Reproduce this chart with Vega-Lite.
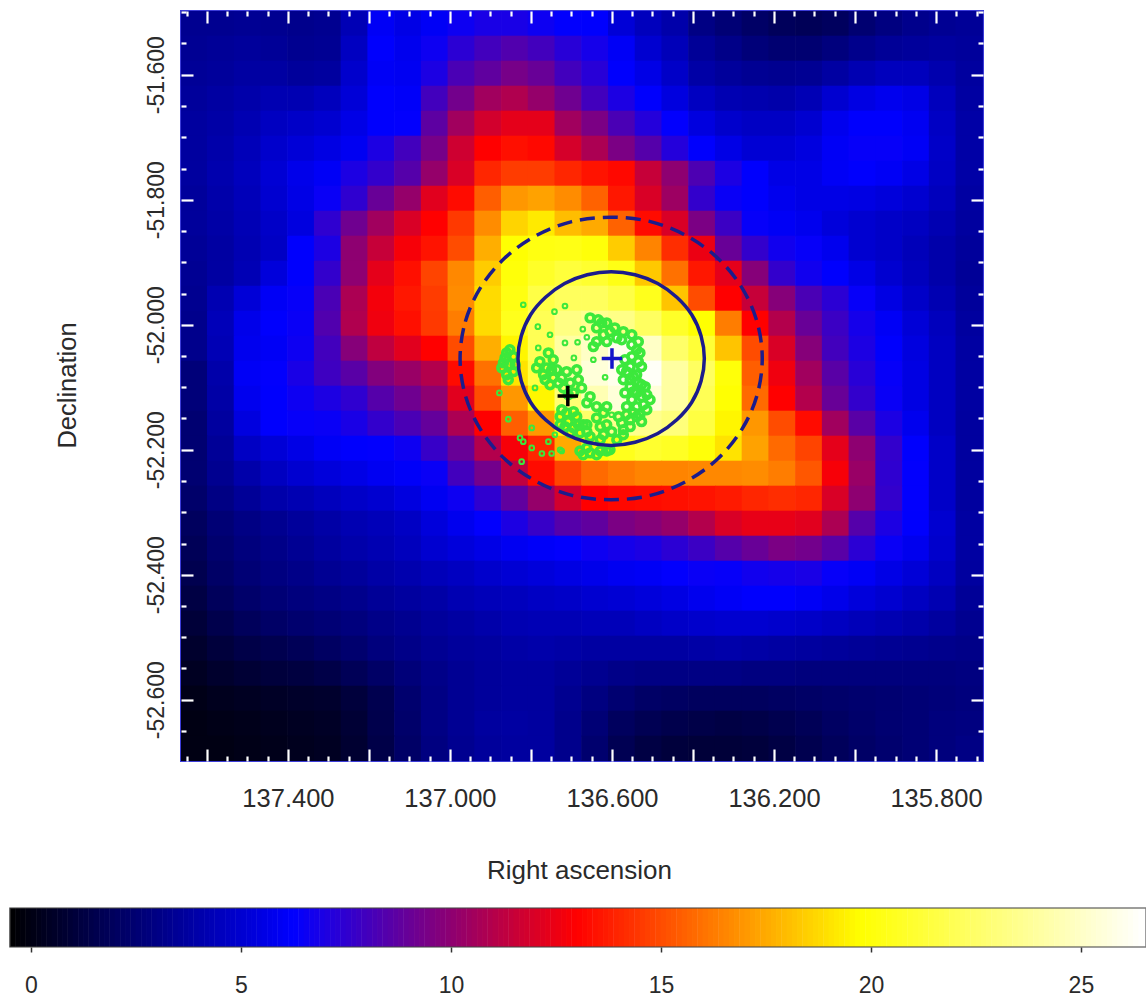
{"$schema":"https://vega.github.io/schema/vega-lite/v6.json","width":802,"height":750,"autosize":{"type":"none"},"padding":{"left":181,"top":11,"right":163,"bottom":237},"background":"#ffffff","config":{"font":"Liberation Sans","view":{"stroke":"#3c3cd8","strokeWidth":2}},
"datasets":{"cells":[
{"ra":137.632,"dec":-51.518,"v":3.3},{"ra":137.566,"dec":-51.518,"v":3.3},{"ra":137.5,"dec":-51.518,"v":3.4},{"ra":137.434,"dec":-51.518,"v":3.3},{"ra":137.368,"dec":-51.518,"v":3.2},{"ra":137.302,"dec":-51.518,"v":3.3},{"ra":137.236,"dec":-51.518,"v":4.3},{"ra":137.17,"dec":-51.518,"v":6.0},{"ra":137.104,"dec":-51.518,"v":5.6},{"ra":137.038,"dec":-51.518,"v":6.0},{"ra":136.972,"dec":-51.518,"v":6.6},{"ra":136.906,"dec":-51.518,"v":6.9},{"ra":136.84,"dec":-51.518,"v":6.9},{"ra":136.774,"dec":-51.518,"v":6.6},{"ra":136.708,"dec":-51.518,"v":6.3},{"ra":136.642,"dec":-51.518,"v":6.2},{"ra":136.576,"dec":-51.518,"v":5.2},{"ra":136.51,"dec":-51.518,"v":4.5},{"ra":136.444,"dec":-51.518,"v":4.0},{"ra":136.378,"dec":-51.518,"v":3.0},{"ra":136.312,"dec":-51.518,"v":2.6},{"ra":136.246,"dec":-51.518,"v":2.2},{"ra":136.18,"dec":-51.518,"v":1.9},{"ra":136.114,"dec":-51.518,"v":1.8},{"ra":136.048,"dec":-51.518,"v":2.0},{"ra":135.982,"dec":-51.518,"v":2.5},{"ra":135.916,"dec":-51.518,"v":2.9},{"ra":135.85,"dec":-51.518,"v":3.2},{"ra":135.784,"dec":-51.518,"v":3.4},{"ra":135.718,"dec":-51.518,"v":3.5},
{"ra":137.632,"dec":-51.558,"v":3.4},{"ra":137.566,"dec":-51.558,"v":3.5},{"ra":137.5,"dec":-51.558,"v":3.6},{"ra":137.434,"dec":-51.558,"v":3.5},{"ra":137.368,"dec":-51.558,"v":3.3},{"ra":137.302,"dec":-51.558,"v":3.4},{"ra":137.236,"dec":-51.558,"v":4.6},{"ra":137.17,"dec":-51.558,"v":6.2},{"ra":137.104,"dec":-51.558,"v":5.8},{"ra":137.038,"dec":-51.558,"v":6.6},{"ra":136.972,"dec":-51.558,"v":7.4},{"ra":136.906,"dec":-51.558,"v":8.0},{"ra":136.84,"dec":-51.558,"v":8.4},{"ra":136.774,"dec":-51.558,"v":8.0},{"ra":136.708,"dec":-51.558,"v":7.3},{"ra":136.642,"dec":-51.558,"v":6.8},{"ra":136.576,"dec":-51.558,"v":6.0},{"ra":136.51,"dec":-51.558,"v":5.0},{"ra":136.444,"dec":-51.558,"v":4.4},{"ra":136.378,"dec":-51.558,"v":3.5},{"ra":136.312,"dec":-51.558,"v":3.1},{"ra":136.246,"dec":-51.558,"v":2.7},{"ra":136.18,"dec":-51.558,"v":2.5},{"ra":136.114,"dec":-51.558,"v":2.5},{"ra":136.048,"dec":-51.558,"v":2.8},{"ra":135.982,"dec":-51.558,"v":3.2},{"ra":135.916,"dec":-51.558,"v":3.5},{"ra":135.85,"dec":-51.558,"v":3.6},{"ra":135.784,"dec":-51.558,"v":3.7},{"ra":135.718,"dec":-51.558,"v":3.6},
{"ra":137.632,"dec":-51.598,"v":3.5},{"ra":137.566,"dec":-51.598,"v":3.6},{"ra":137.5,"dec":-51.598,"v":3.8},{"ra":137.434,"dec":-51.598,"v":3.8},{"ra":137.368,"dec":-51.598,"v":3.6},{"ra":137.302,"dec":-51.598,"v":3.7},{"ra":137.236,"dec":-51.598,"v":4.9},{"ra":137.17,"dec":-51.598,"v":6.0},{"ra":137.104,"dec":-51.598,"v":5.9},{"ra":137.038,"dec":-51.598,"v":7.0},{"ra":136.972,"dec":-51.598,"v":8.2},{"ra":136.906,"dec":-51.598,"v":8.8},{"ra":136.84,"dec":-51.598,"v":9.4},{"ra":136.774,"dec":-51.598,"v":9.0},{"ra":136.708,"dec":-51.598,"v":8.0},{"ra":136.642,"dec":-51.598,"v":7.3},{"ra":136.576,"dec":-51.598,"v":6.2},{"ra":136.51,"dec":-51.598,"v":5.6},{"ra":136.444,"dec":-51.598,"v":4.8},{"ra":136.378,"dec":-51.598,"v":3.9},{"ra":136.312,"dec":-51.598,"v":3.6},{"ra":136.246,"dec":-51.598,"v":3.4},{"ra":136.18,"dec":-51.598,"v":3.3},{"ra":136.114,"dec":-51.598,"v":3.4},{"ra":136.048,"dec":-51.598,"v":3.8},{"ra":135.982,"dec":-51.598,"v":4.2},{"ra":135.916,"dec":-51.598,"v":4.5},{"ra":135.85,"dec":-51.598,"v":4.5},{"ra":135.784,"dec":-51.598,"v":4.1},{"ra":135.718,"dec":-51.598,"v":3.7},
{"ra":137.632,"dec":-51.638,"v":3.6},{"ra":137.566,"dec":-51.638,"v":3.8},{"ra":137.5,"dec":-51.638,"v":4.0},{"ra":137.434,"dec":-51.638,"v":4.2},{"ra":137.368,"dec":-51.638,"v":4.2},{"ra":137.302,"dec":-51.638,"v":4.5},{"ra":137.236,"dec":-51.638,"v":5.2},{"ra":137.17,"dec":-51.638,"v":6.2},{"ra":137.104,"dec":-51.638,"v":6.1},{"ra":137.038,"dec":-51.638,"v":8.0},{"ra":136.972,"dec":-51.638,"v":9.3},{"ra":136.906,"dec":-51.638,"v":10.5},{"ra":136.84,"dec":-51.638,"v":10.9},{"ra":136.774,"dec":-51.638,"v":10.2},{"ra":136.708,"dec":-51.638,"v":9.2},{"ra":136.642,"dec":-51.638,"v":8.0},{"ra":136.576,"dec":-51.638,"v":7.0},{"ra":136.51,"dec":-51.638,"v":6.2},{"ra":136.444,"dec":-51.638,"v":5.4},{"ra":136.378,"dec":-51.638,"v":4.6},{"ra":136.312,"dec":-51.638,"v":4.2},{"ra":136.246,"dec":-51.638,"v":4.1},{"ra":136.18,"dec":-51.638,"v":4.0},{"ra":136.114,"dec":-51.638,"v":4.3},{"ra":136.048,"dec":-51.638,"v":5.0},{"ra":135.982,"dec":-51.638,"v":5.5},{"ra":135.916,"dec":-51.638,"v":5.8},{"ra":135.85,"dec":-51.638,"v":5.6},{"ra":135.784,"dec":-51.638,"v":4.5},{"ra":135.718,"dec":-51.638,"v":3.8},
{"ra":137.632,"dec":-51.678,"v":3.7},{"ra":137.566,"dec":-51.678,"v":3.9},{"ra":137.5,"dec":-51.678,"v":4.2},{"ra":137.434,"dec":-51.678,"v":4.6},{"ra":137.368,"dec":-51.678,"v":4.8},{"ra":137.302,"dec":-51.678,"v":5.0},{"ra":137.236,"dec":-51.678,"v":5.6},{"ra":137.17,"dec":-51.678,"v":6.2},{"ra":137.104,"dec":-51.678,"v":6.3},{"ra":137.038,"dec":-51.678,"v":8.7},{"ra":136.972,"dec":-51.678,"v":10.5},{"ra":136.906,"dec":-51.678,"v":11.8},{"ra":136.84,"dec":-51.678,"v":12.3},{"ra":136.774,"dec":-51.678,"v":12.3},{"ra":136.708,"dec":-51.678,"v":10.5},{"ra":136.642,"dec":-51.678,"v":9.5},{"ra":136.576,"dec":-51.678,"v":8.2},{"ra":136.51,"dec":-51.678,"v":7.2},{"ra":136.444,"dec":-51.678,"v":6.3},{"ra":136.378,"dec":-51.678,"v":5.4},{"ra":136.312,"dec":-51.678,"v":4.9},{"ra":136.246,"dec":-51.678,"v":4.7},{"ra":136.18,"dec":-51.678,"v":4.7},{"ra":136.114,"dec":-51.678,"v":5.0},{"ra":136.048,"dec":-51.678,"v":5.8},{"ra":135.982,"dec":-51.678,"v":6.2},{"ra":135.916,"dec":-51.678,"v":6.2},{"ra":135.85,"dec":-51.678,"v":5.9},{"ra":135.784,"dec":-51.678,"v":4.7},{"ra":135.718,"dec":-51.678,"v":3.9},
{"ra":137.632,"dec":-51.718,"v":3.7},{"ra":137.566,"dec":-51.718,"v":4.0},{"ra":137.5,"dec":-51.718,"v":4.4},{"ra":137.434,"dec":-51.718,"v":4.9},{"ra":137.368,"dec":-51.718,"v":5.2},{"ra":137.302,"dec":-51.718,"v":5.5},{"ra":137.236,"dec":-51.718,"v":5.9},{"ra":137.17,"dec":-51.718,"v":7.0},{"ra":137.104,"dec":-51.718,"v":8.0},{"ra":137.038,"dec":-51.718,"v":9.4},{"ra":136.972,"dec":-51.718,"v":11.7},{"ra":136.906,"dec":-51.718,"v":13.0},{"ra":136.84,"dec":-51.718,"v":13.4},{"ra":136.774,"dec":-51.718,"v":13.2},{"ra":136.708,"dec":-51.718,"v":11.9},{"ra":136.642,"dec":-51.718,"v":10.8},{"ra":136.576,"dec":-51.718,"v":9.5},{"ra":136.51,"dec":-51.718,"v":8.5},{"ra":136.444,"dec":-51.718,"v":7.2},{"ra":136.378,"dec":-51.718,"v":6.2},{"ra":136.312,"dec":-51.718,"v":5.6},{"ra":136.246,"dec":-51.718,"v":5.1},{"ra":136.18,"dec":-51.718,"v":5.1},{"ra":136.114,"dec":-51.718,"v":5.4},{"ra":136.048,"dec":-51.718,"v":6.0},{"ra":135.982,"dec":-51.718,"v":6.4},{"ra":135.916,"dec":-51.718,"v":6.4},{"ra":135.85,"dec":-51.718,"v":6.0},{"ra":135.784,"dec":-51.718,"v":4.8},{"ra":135.718,"dec":-51.718,"v":3.9},
{"ra":137.632,"dec":-51.758,"v":3.7},{"ra":137.566,"dec":-51.758,"v":4.1},{"ra":137.5,"dec":-51.758,"v":4.5},{"ra":137.434,"dec":-51.758,"v":5.1},{"ra":137.368,"dec":-51.758,"v":5.7},{"ra":137.302,"dec":-51.758,"v":6.0},{"ra":137.236,"dec":-51.758,"v":7.0},{"ra":137.17,"dec":-51.758,"v":7.6},{"ra":137.104,"dec":-51.758,"v":8.5},{"ra":137.038,"dec":-51.758,"v":10.2},{"ra":136.972,"dec":-51.758,"v":12.0},{"ra":136.906,"dec":-51.758,"v":14.0},{"ra":136.84,"dec":-51.758,"v":14.6},{"ra":136.774,"dec":-51.758,"v":14.6},{"ra":136.708,"dec":-51.758,"v":14.0},{"ra":136.642,"dec":-51.758,"v":13.5},{"ra":136.576,"dec":-51.758,"v":13.2},{"ra":136.51,"dec":-51.758,"v":11.5},{"ra":136.444,"dec":-51.758,"v":10.0},{"ra":136.378,"dec":-51.758,"v":8.3},{"ra":136.312,"dec":-51.758,"v":7.0},{"ra":136.246,"dec":-51.758,"v":6.2},{"ra":136.18,"dec":-51.758,"v":5.6},{"ra":136.114,"dec":-51.758,"v":5.6},{"ra":136.048,"dec":-51.758,"v":6.0},{"ra":135.982,"dec":-51.758,"v":6.2},{"ra":135.916,"dec":-51.758,"v":6.0},{"ra":135.85,"dec":-51.758,"v":5.6},{"ra":135.784,"dec":-51.758,"v":4.7},{"ra":135.718,"dec":-51.758,"v":3.9},
{"ra":137.632,"dec":-51.798,"v":3.6},{"ra":137.566,"dec":-51.798,"v":4.0},{"ra":137.5,"dec":-51.798,"v":4.4},{"ra":137.434,"dec":-51.798,"v":5.0},{"ra":137.368,"dec":-51.798,"v":5.6},{"ra":137.302,"dec":-51.798,"v":6.5},{"ra":137.236,"dec":-51.798,"v":7.5},{"ra":137.17,"dec":-51.798,"v":9.0},{"ra":137.104,"dec":-51.798,"v":10.2},{"ra":137.038,"dec":-51.798,"v":12.2},{"ra":136.972,"dec":-51.798,"v":13.3},{"ra":136.906,"dec":-51.798,"v":15.5},{"ra":136.84,"dec":-51.798,"v":17.0},{"ra":136.774,"dec":-51.798,"v":17.3},{"ra":136.708,"dec":-51.798,"v":16.7},{"ra":136.642,"dec":-51.798,"v":15.6},{"ra":136.576,"dec":-51.798,"v":13.6},{"ra":136.51,"dec":-51.798,"v":12.0},{"ra":136.444,"dec":-51.798,"v":10.4},{"ra":136.378,"dec":-51.798,"v":7.6},{"ra":136.312,"dec":-51.798,"v":6.5},{"ra":136.246,"dec":-51.798,"v":6.2},{"ra":136.18,"dec":-51.798,"v":5.8},{"ra":136.114,"dec":-51.798,"v":5.6},{"ra":136.048,"dec":-51.798,"v":5.6},{"ra":135.982,"dec":-51.798,"v":5.5},{"ra":135.916,"dec":-51.798,"v":5.3},{"ra":135.85,"dec":-51.798,"v":5.0},{"ra":135.784,"dec":-51.798,"v":4.5},{"ra":135.718,"dec":-51.798,"v":3.8},
{"ra":137.632,"dec":-51.838,"v":3.6},{"ra":137.566,"dec":-51.838,"v":3.9},{"ra":137.5,"dec":-51.838,"v":4.3},{"ra":137.434,"dec":-51.838,"v":4.8},{"ra":137.368,"dec":-51.838,"v":5.4},{"ra":137.302,"dec":-51.838,"v":7.5},{"ra":137.236,"dec":-51.838,"v":9.2},{"ra":137.17,"dec":-51.838,"v":10.5},{"ra":137.104,"dec":-51.838,"v":12.0},{"ra":137.038,"dec":-51.838,"v":13.0},{"ra":136.972,"dec":-51.838,"v":14.5},{"ra":136.906,"dec":-51.838,"v":16.7},{"ra":136.84,"dec":-51.838,"v":18.6},{"ra":136.774,"dec":-51.838,"v":19.2},{"ra":136.708,"dec":-51.838,"v":18.0},{"ra":136.642,"dec":-51.838,"v":17.5},{"ra":136.576,"dec":-51.838,"v":15.6},{"ra":136.51,"dec":-51.838,"v":13.3},{"ra":136.444,"dec":-51.838,"v":12.0},{"ra":136.378,"dec":-51.838,"v":9.5},{"ra":136.312,"dec":-51.838,"v":7.8},{"ra":136.246,"dec":-51.838,"v":6.4},{"ra":136.18,"dec":-51.838,"v":6.0},{"ra":136.114,"dec":-51.838,"v":5.8},{"ra":136.048,"dec":-51.838,"v":5.3},{"ra":135.982,"dec":-51.838,"v":5.0},{"ra":135.916,"dec":-51.838,"v":4.8},{"ra":135.85,"dec":-51.838,"v":4.6},{"ra":135.784,"dec":-51.838,"v":4.2},{"ra":135.718,"dec":-51.838,"v":3.7},
{"ra":137.632,"dec":-51.878,"v":3.5},{"ra":137.566,"dec":-51.878,"v":3.8},{"ra":137.5,"dec":-51.878,"v":4.2},{"ra":137.434,"dec":-51.878,"v":4.7},{"ra":137.368,"dec":-51.878,"v":6.2},{"ra":137.302,"dec":-51.878,"v":7.0},{"ra":137.236,"dec":-51.878,"v":10.0},{"ra":137.17,"dec":-51.878,"v":11.5},{"ra":137.104,"dec":-51.878,"v":12.8},{"ra":137.038,"dec":-51.878,"v":13.5},{"ra":136.972,"dec":-51.878,"v":15.0},{"ra":136.906,"dec":-51.878,"v":17.6},{"ra":136.84,"dec":-51.878,"v":19.8},{"ra":136.774,"dec":-51.878,"v":20.2},{"ra":136.708,"dec":-51.878,"v":20.3},{"ra":136.642,"dec":-51.878,"v":20.0},{"ra":136.576,"dec":-51.878,"v":18.4},{"ra":136.51,"dec":-51.878,"v":16.5},{"ra":136.444,"dec":-51.878,"v":14.2},{"ra":136.378,"dec":-51.878,"v":12.5},{"ra":136.312,"dec":-51.878,"v":9.0},{"ra":136.246,"dec":-51.878,"v":7.6},{"ra":136.18,"dec":-51.878,"v":6.7},{"ra":136.114,"dec":-51.878,"v":6.4},{"ra":136.048,"dec":-51.878,"v":5.8},{"ra":135.982,"dec":-51.878,"v":5.0},{"ra":135.916,"dec":-51.878,"v":4.8},{"ra":135.85,"dec":-51.878,"v":4.4},{"ra":135.784,"dec":-51.878,"v":4.0},{"ra":135.718,"dec":-51.878,"v":3.6},
{"ra":137.632,"dec":-51.918,"v":3.4},{"ra":137.566,"dec":-51.918,"v":3.8},{"ra":137.5,"dec":-51.918,"v":4.3},{"ra":137.434,"dec":-51.918,"v":5.3},{"ra":137.368,"dec":-51.918,"v":6.2},{"ra":137.302,"dec":-51.918,"v":7.6},{"ra":137.236,"dec":-51.918,"v":10.0},{"ra":137.17,"dec":-51.918,"v":12.3},{"ra":137.104,"dec":-51.918,"v":13.4},{"ra":137.038,"dec":-51.918,"v":14.8},{"ra":136.972,"dec":-51.918,"v":16.6},{"ra":136.906,"dec":-51.918,"v":18.4},{"ra":136.84,"dec":-51.918,"v":20.0},{"ra":136.774,"dec":-51.918,"v":20.8},{"ra":136.708,"dec":-51.918,"v":21.3},{"ra":136.642,"dec":-51.918,"v":21.0},{"ra":136.576,"dec":-51.918,"v":20.3},{"ra":136.51,"dec":-51.918,"v":18.3},{"ra":136.444,"dec":-51.918,"v":16.0},{"ra":136.378,"dec":-51.918,"v":13.6},{"ra":136.312,"dec":-51.918,"v":12.3},{"ra":136.246,"dec":-51.918,"v":9.8},{"ra":136.18,"dec":-51.918,"v":7.6},{"ra":136.114,"dec":-51.918,"v":6.7},{"ra":136.048,"dec":-51.918,"v":6.2},{"ra":135.982,"dec":-51.918,"v":5.6},{"ra":135.916,"dec":-51.918,"v":5.0},{"ra":135.85,"dec":-51.918,"v":4.5},{"ra":135.784,"dec":-51.918,"v":4.0},{"ra":135.718,"dec":-51.918,"v":3.5},
{"ra":137.632,"dec":-51.958,"v":3.3},{"ra":137.566,"dec":-51.958,"v":4.2},{"ra":137.5,"dec":-51.958,"v":5.2},{"ra":137.434,"dec":-51.958,"v":6.0},{"ra":137.368,"dec":-51.958,"v":6.4},{"ra":137.302,"dec":-51.958,"v":8.2},{"ra":137.236,"dec":-51.958,"v":10.8},{"ra":137.17,"dec":-51.958,"v":12.7},{"ra":137.104,"dec":-51.958,"v":13.6},{"ra":137.038,"dec":-51.958,"v":14.6},{"ra":136.972,"dec":-51.958,"v":16.7},{"ra":136.906,"dec":-51.958,"v":18.8},{"ra":136.84,"dec":-51.958,"v":20.2},{"ra":136.774,"dec":-51.958,"v":21.6},{"ra":136.708,"dec":-51.958,"v":22.2},{"ra":136.642,"dec":-51.958,"v":22.2},{"ra":136.576,"dec":-51.958,"v":21.6},{"ra":136.51,"dec":-51.958,"v":20.5},{"ra":136.444,"dec":-51.958,"v":18.2},{"ra":136.378,"dec":-51.958,"v":15.0},{"ra":136.312,"dec":-51.958,"v":13.0},{"ra":136.246,"dec":-51.958,"v":11.5},{"ra":136.18,"dec":-51.958,"v":9.8},{"ra":136.114,"dec":-51.958,"v":8.2},{"ra":136.048,"dec":-51.958,"v":7.4},{"ra":135.982,"dec":-51.958,"v":6.4},{"ra":135.916,"dec":-51.958,"v":5.5},{"ra":135.85,"dec":-51.958,"v":4.8},{"ra":135.784,"dec":-51.958,"v":4.2},{"ra":135.718,"dec":-51.958,"v":3.6},
{"ra":137.632,"dec":-51.998,"v":3.2},{"ra":137.566,"dec":-51.998,"v":4.4},{"ra":137.5,"dec":-51.998,"v":5.7},{"ra":137.434,"dec":-51.998,"v":6.2},{"ra":137.368,"dec":-51.998,"v":6.5},{"ra":137.302,"dec":-51.998,"v":8.4},{"ra":137.236,"dec":-51.998,"v":10.9},{"ra":137.17,"dec":-51.998,"v":12.6},{"ra":137.104,"dec":-51.998,"v":13.4},{"ra":137.038,"dec":-51.998,"v":14.5},{"ra":136.972,"dec":-51.998,"v":16.3},{"ra":136.906,"dec":-51.998,"v":18.8},{"ra":136.84,"dec":-51.998,"v":20.5},{"ra":136.774,"dec":-51.998,"v":22.0},{"ra":136.708,"dec":-51.998,"v":23.2},{"ra":136.642,"dec":-51.998,"v":23.6},{"ra":136.576,"dec":-51.998,"v":23.3},{"ra":136.51,"dec":-51.998,"v":22.3},{"ra":136.444,"dec":-51.998,"v":20.8},{"ra":136.378,"dec":-51.998,"v":19.8},{"ra":136.312,"dec":-51.998,"v":16.3},{"ra":136.246,"dec":-51.998,"v":13.0},{"ra":136.18,"dec":-51.998,"v":11.0},{"ra":136.114,"dec":-51.998,"v":9.0},{"ra":136.048,"dec":-51.998,"v":7.8},{"ra":135.982,"dec":-51.998,"v":6.8},{"ra":135.916,"dec":-51.998,"v":6.0},{"ra":135.85,"dec":-51.998,"v":5.2},{"ra":135.784,"dec":-51.998,"v":4.5},{"ra":135.718,"dec":-51.998,"v":3.7},
{"ra":137.632,"dec":-52.038,"v":3.2},{"ra":137.566,"dec":-52.038,"v":4.3},{"ra":137.5,"dec":-52.038,"v":5.8},{"ra":137.434,"dec":-52.038,"v":6.0},{"ra":137.368,"dec":-52.038,"v":6.6},{"ra":137.302,"dec":-52.038,"v":8.0},{"ra":137.236,"dec":-52.038,"v":9.8},{"ra":137.17,"dec":-52.038,"v":11.3},{"ra":137.104,"dec":-52.038,"v":12.2},{"ra":137.038,"dec":-52.038,"v":13.0},{"ra":136.972,"dec":-52.038,"v":15.0},{"ra":136.906,"dec":-52.038,"v":17.6},{"ra":136.84,"dec":-52.038,"v":19.5},{"ra":136.774,"dec":-52.038,"v":22.0},{"ra":136.708,"dec":-52.038,"v":24.0},{"ra":136.642,"dec":-52.038,"v":25.0},{"ra":136.576,"dec":-52.038,"v":26.0},{"ra":136.51,"dec":-52.038,"v":25.0},{"ra":136.444,"dec":-52.038,"v":22.5},{"ra":136.378,"dec":-52.038,"v":21.2},{"ra":136.312,"dec":-52.038,"v":18.2},{"ra":136.246,"dec":-52.038,"v":15.0},{"ra":136.18,"dec":-52.038,"v":12.0},{"ra":136.114,"dec":-52.038,"v":9.8},{"ra":136.048,"dec":-52.038,"v":8.0},{"ra":135.982,"dec":-52.038,"v":7.0},{"ra":135.916,"dec":-52.038,"v":6.2},{"ra":135.85,"dec":-52.038,"v":5.4},{"ra":135.784,"dec":-52.038,"v":4.6},{"ra":135.718,"dec":-52.038,"v":3.8},
{"ra":137.632,"dec":-52.078,"v":2.7},{"ra":137.566,"dec":-52.078,"v":4.0},{"ra":137.5,"dec":-52.078,"v":6.0},{"ra":137.434,"dec":-52.078,"v":6.3},{"ra":137.368,"dec":-52.078,"v":6.9},{"ra":137.302,"dec":-52.078,"v":7.9},{"ra":137.236,"dec":-52.078,"v":8.6},{"ra":137.17,"dec":-52.078,"v":9.7},{"ra":137.104,"dec":-52.078,"v":10.3},{"ra":137.038,"dec":-52.078,"v":11.0},{"ra":136.972,"dec":-52.078,"v":13.3},{"ra":136.906,"dec":-52.078,"v":16.0},{"ra":136.84,"dec":-52.078,"v":19.0},{"ra":136.774,"dec":-52.078,"v":21.5},{"ra":136.708,"dec":-52.078,"v":24.0},{"ra":136.642,"dec":-52.078,"v":25.5},{"ra":136.576,"dec":-52.078,"v":26.0},{"ra":136.51,"dec":-52.078,"v":26.3},{"ra":136.444,"dec":-52.078,"v":24.0},{"ra":136.378,"dec":-52.078,"v":22.3},{"ra":136.312,"dec":-52.078,"v":20.0},{"ra":136.246,"dec":-52.078,"v":15.5},{"ra":136.18,"dec":-52.078,"v":12.6},{"ra":136.114,"dec":-52.078,"v":10.5},{"ra":136.048,"dec":-52.078,"v":8.6},{"ra":135.982,"dec":-52.078,"v":7.3},{"ra":135.916,"dec":-52.078,"v":6.4},{"ra":135.85,"dec":-52.078,"v":5.5},{"ra":135.784,"dec":-52.078,"v":4.6},{"ra":135.718,"dec":-52.078,"v":3.8},
{"ra":137.632,"dec":-52.118,"v":2.7},{"ra":137.566,"dec":-52.118,"v":3.9},{"ra":137.5,"dec":-52.118,"v":5.8},{"ra":137.434,"dec":-52.118,"v":6.2},{"ra":137.368,"dec":-52.118,"v":6.6},{"ra":137.302,"dec":-52.118,"v":7.0},{"ra":137.236,"dec":-52.118,"v":7.5},{"ra":137.17,"dec":-52.118,"v":8.5},{"ra":137.104,"dec":-52.118,"v":9.2},{"ra":137.038,"dec":-52.118,"v":10.0},{"ra":136.972,"dec":-52.118,"v":12.2},{"ra":136.906,"dec":-52.118,"v":15.0},{"ra":136.84,"dec":-52.118,"v":17.0},{"ra":136.774,"dec":-52.118,"v":19.5},{"ra":136.708,"dec":-52.118,"v":22.8},{"ra":136.642,"dec":-52.118,"v":24.5},{"ra":136.576,"dec":-52.118,"v":25.5},{"ra":136.51,"dec":-52.118,"v":25.5},{"ra":136.444,"dec":-52.118,"v":24.0},{"ra":136.378,"dec":-52.118,"v":22.0},{"ra":136.312,"dec":-52.118,"v":19.8},{"ra":136.246,"dec":-52.118,"v":15.8},{"ra":136.18,"dec":-52.118,"v":13.0},{"ra":136.114,"dec":-52.118,"v":11.0},{"ra":136.048,"dec":-52.118,"v":9.0},{"ra":135.982,"dec":-52.118,"v":7.6},{"ra":135.916,"dec":-52.118,"v":6.5},{"ra":135.85,"dec":-52.118,"v":5.5},{"ra":135.784,"dec":-52.118,"v":4.6},{"ra":135.718,"dec":-52.118,"v":3.8},
{"ra":137.632,"dec":-52.158,"v":2.5},{"ra":137.566,"dec":-52.158,"v":3.7},{"ra":137.5,"dec":-52.158,"v":5.4},{"ra":137.434,"dec":-52.158,"v":6.2},{"ra":137.368,"dec":-52.158,"v":6.4},{"ra":137.302,"dec":-52.158,"v":6.5},{"ra":137.236,"dec":-52.158,"v":6.9},{"ra":137.17,"dec":-52.158,"v":7.6},{"ra":137.104,"dec":-52.158,"v":8.2},{"ra":137.038,"dec":-52.158,"v":8.9},{"ra":136.972,"dec":-52.158,"v":10.8},{"ra":136.906,"dec":-52.158,"v":13.0},{"ra":136.84,"dec":-52.158,"v":15.5},{"ra":136.774,"dec":-52.158,"v":17.0},{"ra":136.708,"dec":-52.158,"v":20.0},{"ra":136.642,"dec":-52.158,"v":22.5},{"ra":136.576,"dec":-52.158,"v":23.5},{"ra":136.51,"dec":-52.158,"v":23.5},{"ra":136.444,"dec":-52.158,"v":23.0},{"ra":136.378,"dec":-52.158,"v":21.5},{"ra":136.312,"dec":-52.158,"v":19.5},{"ra":136.246,"dec":-52.158,"v":17.0},{"ra":136.18,"dec":-52.158,"v":15.0},{"ra":136.114,"dec":-52.158,"v":13.3},{"ra":136.048,"dec":-52.158,"v":10.5},{"ra":135.982,"dec":-52.158,"v":8.6},{"ra":135.916,"dec":-52.158,"v":7.0},{"ra":135.85,"dec":-52.158,"v":5.8},{"ra":135.784,"dec":-52.158,"v":4.6},{"ra":135.718,"dec":-52.158,"v":3.7},
{"ra":137.632,"dec":-52.198,"v":2.5},{"ra":137.566,"dec":-52.198,"v":3.5},{"ra":137.5,"dec":-52.198,"v":4.7},{"ra":137.434,"dec":-52.198,"v":5.2},{"ra":137.368,"dec":-52.198,"v":5.6},{"ra":137.302,"dec":-52.198,"v":6.0},{"ra":137.236,"dec":-52.198,"v":6.2},{"ra":137.17,"dec":-52.198,"v":6.3},{"ra":137.104,"dec":-52.198,"v":6.6},{"ra":137.038,"dec":-52.198,"v":7.7},{"ra":136.972,"dec":-52.198,"v":9.0},{"ra":136.906,"dec":-52.198,"v":11.0},{"ra":136.84,"dec":-52.198,"v":12.8},{"ra":136.774,"dec":-52.198,"v":14.0},{"ra":136.708,"dec":-52.198,"v":17.5},{"ra":136.642,"dec":-52.198,"v":20.0},{"ra":136.576,"dec":-52.198,"v":20.5},{"ra":136.51,"dec":-52.198,"v":21.0},{"ra":136.444,"dec":-52.198,"v":20.7},{"ra":136.378,"dec":-52.198,"v":20.0},{"ra":136.312,"dec":-52.198,"v":19.0},{"ra":136.246,"dec":-52.198,"v":17.3},{"ra":136.18,"dec":-52.198,"v":15.8},{"ra":136.114,"dec":-52.198,"v":14.8},{"ra":136.048,"dec":-52.198,"v":12.3},{"ra":135.982,"dec":-52.198,"v":10.0},{"ra":135.916,"dec":-52.198,"v":7.6},{"ra":135.85,"dec":-52.198,"v":6.2},{"ra":135.784,"dec":-52.198,"v":4.8},{"ra":135.718,"dec":-52.198,"v":3.7},
{"ra":137.632,"dec":-52.238,"v":2.5},{"ra":137.566,"dec":-52.238,"v":3.3},{"ra":137.5,"dec":-52.238,"v":4.0},{"ra":137.434,"dec":-52.238,"v":4.6},{"ra":137.368,"dec":-52.238,"v":5.0},{"ra":137.302,"dec":-52.238,"v":5.3},{"ra":137.236,"dec":-52.238,"v":5.6},{"ra":137.17,"dec":-52.238,"v":5.9},{"ra":137.104,"dec":-52.238,"v":6.1},{"ra":137.038,"dec":-52.238,"v":6.5},{"ra":136.972,"dec":-52.238,"v":8.0},{"ra":136.906,"dec":-52.238,"v":9.3},{"ra":136.84,"dec":-52.238,"v":11.3},{"ra":136.774,"dec":-52.238,"v":13.3},{"ra":136.708,"dec":-52.238,"v":14.8},{"ra":136.642,"dec":-52.238,"v":15.8},{"ra":136.576,"dec":-52.238,"v":16.2},{"ra":136.51,"dec":-52.238,"v":16.5},{"ra":136.444,"dec":-52.238,"v":16.5},{"ra":136.378,"dec":-52.238,"v":16.6},{"ra":136.312,"dec":-52.238,"v":16.6},{"ra":136.246,"dec":-52.238,"v":16.7},{"ra":136.18,"dec":-52.238,"v":16.3},{"ra":136.114,"dec":-52.238,"v":15.3},{"ra":136.048,"dec":-52.238,"v":12.8},{"ra":135.982,"dec":-52.238,"v":10.3},{"ra":135.916,"dec":-52.238,"v":7.5},{"ra":135.85,"dec":-52.238,"v":6.3},{"ra":135.784,"dec":-52.238,"v":4.8},{"ra":135.718,"dec":-52.238,"v":3.7},
{"ra":137.632,"dec":-52.278,"v":2.3},{"ra":137.566,"dec":-52.278,"v":3.0},{"ra":137.5,"dec":-52.278,"v":3.5},{"ra":137.434,"dec":-52.278,"v":4.0},{"ra":137.368,"dec":-52.278,"v":4.2},{"ra":137.302,"dec":-52.278,"v":4.5},{"ra":137.236,"dec":-52.278,"v":4.8},{"ra":137.17,"dec":-52.278,"v":5.0},{"ra":137.104,"dec":-52.278,"v":5.4},{"ra":137.038,"dec":-52.278,"v":5.9},{"ra":136.972,"dec":-52.278,"v":6.6},{"ra":136.906,"dec":-52.278,"v":7.5},{"ra":136.84,"dec":-52.278,"v":8.8},{"ra":136.774,"dec":-52.278,"v":10.2},{"ra":136.708,"dec":-52.278,"v":11.8},{"ra":136.642,"dec":-52.278,"v":13.0},{"ra":136.576,"dec":-52.278,"v":13.2},{"ra":136.51,"dec":-52.278,"v":13.3},{"ra":136.444,"dec":-52.278,"v":13.4},{"ra":136.378,"dec":-52.278,"v":13.5},{"ra":136.312,"dec":-52.278,"v":13.7},{"ra":136.246,"dec":-52.278,"v":14.0},{"ra":136.18,"dec":-52.278,"v":14.2},{"ra":136.114,"dec":-52.278,"v":14.0},{"ra":136.048,"dec":-52.278,"v":12.0},{"ra":135.982,"dec":-52.278,"v":10.0},{"ra":135.916,"dec":-52.278,"v":7.6},{"ra":135.85,"dec":-52.278,"v":6.3},{"ra":135.784,"dec":-52.278,"v":4.8},{"ra":135.718,"dec":-52.278,"v":3.7},
{"ra":137.632,"dec":-52.318,"v":2.0},{"ra":137.566,"dec":-52.318,"v":2.6},{"ra":137.5,"dec":-52.318,"v":3.0},{"ra":137.434,"dec":-52.318,"v":3.3},{"ra":137.368,"dec":-52.318,"v":3.6},{"ra":137.302,"dec":-52.318,"v":3.9},{"ra":137.236,"dec":-52.318,"v":4.2},{"ra":137.17,"dec":-52.318,"v":4.4},{"ra":137.104,"dec":-52.318,"v":4.7},{"ra":137.038,"dec":-52.318,"v":5.3},{"ra":136.972,"dec":-52.318,"v":5.8},{"ra":136.906,"dec":-52.318,"v":6.3},{"ra":136.84,"dec":-52.318,"v":7.0},{"ra":136.774,"dec":-52.318,"v":7.7},{"ra":136.708,"dec":-52.318,"v":8.5},{"ra":136.642,"dec":-52.318,"v":8.8},{"ra":136.576,"dec":-52.318,"v":9.5},{"ra":136.51,"dec":-52.318,"v":9.8},{"ra":136.444,"dec":-52.318,"v":10.2},{"ra":136.378,"dec":-52.318,"v":11.0},{"ra":136.312,"dec":-52.318,"v":12.0},{"ra":136.246,"dec":-52.318,"v":12.4},{"ra":136.18,"dec":-52.318,"v":12.4},{"ra":136.114,"dec":-52.318,"v":12.2},{"ra":136.048,"dec":-52.318,"v":10.8},{"ra":135.982,"dec":-52.318,"v":8.5},{"ra":135.916,"dec":-52.318,"v":7.0},{"ra":135.85,"dec":-52.318,"v":6.2},{"ra":135.784,"dec":-52.318,"v":5.0},{"ra":135.718,"dec":-52.318,"v":3.8},
{"ra":137.632,"dec":-52.358,"v":1.8},{"ra":137.566,"dec":-52.358,"v":2.4},{"ra":137.5,"dec":-52.358,"v":2.8},{"ra":137.434,"dec":-52.358,"v":3.1},{"ra":137.368,"dec":-52.358,"v":3.4},{"ra":137.302,"dec":-52.358,"v":3.7},{"ra":137.236,"dec":-52.358,"v":4.0},{"ra":137.17,"dec":-52.358,"v":4.2},{"ra":137.104,"dec":-52.358,"v":4.5},{"ra":137.038,"dec":-52.358,"v":5.0},{"ra":136.972,"dec":-52.358,"v":5.3},{"ra":136.906,"dec":-52.358,"v":5.6},{"ra":136.84,"dec":-52.358,"v":5.9},{"ra":136.774,"dec":-52.358,"v":6.1},{"ra":136.708,"dec":-52.358,"v":6.3},{"ra":136.642,"dec":-52.358,"v":6.6},{"ra":136.576,"dec":-52.358,"v":6.8},{"ra":136.51,"dec":-52.358,"v":7.0},{"ra":136.444,"dec":-52.358,"v":7.4},{"ra":136.378,"dec":-52.358,"v":7.8},{"ra":136.312,"dec":-52.358,"v":8.5},{"ra":136.246,"dec":-52.358,"v":9.0},{"ra":136.18,"dec":-52.358,"v":9.5},{"ra":136.114,"dec":-52.358,"v":9.3},{"ra":136.048,"dec":-52.358,"v":8.6},{"ra":135.982,"dec":-52.358,"v":7.4},{"ra":135.916,"dec":-52.358,"v":6.5},{"ra":135.85,"dec":-52.358,"v":5.8},{"ra":135.784,"dec":-52.358,"v":4.9},{"ra":135.718,"dec":-52.358,"v":3.8},
{"ra":137.632,"dec":-52.398,"v":1.6},{"ra":137.566,"dec":-52.398,"v":2.2},{"ra":137.5,"dec":-52.398,"v":2.6},{"ra":137.434,"dec":-52.398,"v":2.9},{"ra":137.368,"dec":-52.398,"v":3.1},{"ra":137.302,"dec":-52.398,"v":3.4},{"ra":137.236,"dec":-52.398,"v":3.6},{"ra":137.17,"dec":-52.398,"v":3.9},{"ra":137.104,"dec":-52.398,"v":4.1},{"ra":137.038,"dec":-52.398,"v":4.4},{"ra":136.972,"dec":-52.398,"v":4.6},{"ra":136.906,"dec":-52.398,"v":4.9},{"ra":136.84,"dec":-52.398,"v":5.1},{"ra":136.774,"dec":-52.398,"v":5.3},{"ra":136.708,"dec":-52.398,"v":5.5},{"ra":136.642,"dec":-52.398,"v":5.7},{"ra":136.576,"dec":-52.398,"v":5.9},{"ra":136.51,"dec":-52.398,"v":6.0},{"ra":136.444,"dec":-52.398,"v":6.3},{"ra":136.378,"dec":-52.398,"v":6.5},{"ra":136.312,"dec":-52.398,"v":6.4},{"ra":136.246,"dec":-52.398,"v":6.7},{"ra":136.18,"dec":-52.398,"v":6.8},{"ra":136.114,"dec":-52.398,"v":6.9},{"ra":136.048,"dec":-52.398,"v":6.4},{"ra":135.982,"dec":-52.398,"v":6.0},{"ra":135.916,"dec":-52.398,"v":5.6},{"ra":135.85,"dec":-52.398,"v":5.2},{"ra":135.784,"dec":-52.398,"v":4.6},{"ra":135.718,"dec":-52.398,"v":3.7},
{"ra":137.632,"dec":-52.438,"v":1.3},{"ra":137.566,"dec":-52.438,"v":1.9},{"ra":137.5,"dec":-52.438,"v":2.3},{"ra":137.434,"dec":-52.438,"v":2.6},{"ra":137.368,"dec":-52.438,"v":2.8},{"ra":137.302,"dec":-52.438,"v":3.0},{"ra":137.236,"dec":-52.438,"v":3.2},{"ra":137.17,"dec":-52.438,"v":3.5},{"ra":137.104,"dec":-52.438,"v":3.7},{"ra":137.038,"dec":-52.438,"v":3.9},{"ra":136.972,"dec":-52.438,"v":4.2},{"ra":136.906,"dec":-52.438,"v":4.4},{"ra":136.84,"dec":-52.438,"v":4.5},{"ra":136.774,"dec":-52.438,"v":4.7},{"ra":136.708,"dec":-52.438,"v":4.8},{"ra":136.642,"dec":-52.438,"v":5.0},{"ra":136.576,"dec":-52.438,"v":5.1},{"ra":136.51,"dec":-52.438,"v":5.3},{"ra":136.444,"dec":-52.438,"v":5.5},{"ra":136.378,"dec":-52.438,"v":5.8},{"ra":136.312,"dec":-52.438,"v":6.0},{"ra":136.246,"dec":-52.438,"v":6.2},{"ra":136.18,"dec":-52.438,"v":6.2},{"ra":136.114,"dec":-52.438,"v":6.0},{"ra":136.048,"dec":-52.438,"v":5.7},{"ra":135.982,"dec":-52.438,"v":5.3},{"ra":135.916,"dec":-52.438,"v":5.0},{"ra":135.85,"dec":-52.438,"v":4.6},{"ra":135.784,"dec":-52.438,"v":4.2},{"ra":135.718,"dec":-52.438,"v":3.5},
{"ra":137.632,"dec":-52.478,"v":1.0},{"ra":137.566,"dec":-52.478,"v":1.5},{"ra":137.5,"dec":-52.478,"v":1.9},{"ra":137.434,"dec":-52.478,"v":2.2},{"ra":137.368,"dec":-52.478,"v":2.4},{"ra":137.302,"dec":-52.478,"v":2.6},{"ra":137.236,"dec":-52.478,"v":2.8},{"ra":137.17,"dec":-52.478,"v":3.1},{"ra":137.104,"dec":-52.478,"v":3.3},{"ra":137.038,"dec":-52.478,"v":3.6},{"ra":136.972,"dec":-52.478,"v":3.8},{"ra":136.906,"dec":-52.478,"v":4.0},{"ra":136.84,"dec":-52.478,"v":4.2},{"ra":136.774,"dec":-52.478,"v":4.3},{"ra":136.708,"dec":-52.478,"v":4.3},{"ra":136.642,"dec":-52.478,"v":4.4},{"ra":136.576,"dec":-52.478,"v":4.4},{"ra":136.51,"dec":-52.478,"v":4.6},{"ra":136.444,"dec":-52.478,"v":4.8},{"ra":136.378,"dec":-52.478,"v":4.9},{"ra":136.312,"dec":-52.478,"v":5.0},{"ra":136.246,"dec":-52.478,"v":5.0},{"ra":136.18,"dec":-52.478,"v":4.9},{"ra":136.114,"dec":-52.478,"v":4.8},{"ra":136.048,"dec":-52.478,"v":4.6},{"ra":135.982,"dec":-52.478,"v":4.4},{"ra":135.916,"dec":-52.478,"v":4.2},{"ra":135.85,"dec":-52.478,"v":4.0},{"ra":135.784,"dec":-52.478,"v":3.7},{"ra":135.718,"dec":-52.478,"v":3.3},
{"ra":137.632,"dec":-52.518,"v":0.7},{"ra":137.566,"dec":-52.518,"v":1.1},{"ra":137.5,"dec":-52.518,"v":1.4},{"ra":137.434,"dec":-52.518,"v":1.6},{"ra":137.368,"dec":-52.518,"v":1.8},{"ra":137.302,"dec":-52.518,"v":2.1},{"ra":137.236,"dec":-52.518,"v":2.4},{"ra":137.17,"dec":-52.518,"v":2.8},{"ra":137.104,"dec":-52.518,"v":3.1},{"ra":137.038,"dec":-52.518,"v":3.4},{"ra":136.972,"dec":-52.518,"v":3.6},{"ra":136.906,"dec":-52.518,"v":3.7},{"ra":136.84,"dec":-52.518,"v":3.9},{"ra":136.774,"dec":-52.518,"v":4.0},{"ra":136.708,"dec":-52.518,"v":3.9},{"ra":136.642,"dec":-52.518,"v":3.8},{"ra":136.576,"dec":-52.518,"v":3.8},{"ra":136.51,"dec":-52.518,"v":3.8},{"ra":136.444,"dec":-52.518,"v":3.8},{"ra":136.378,"dec":-52.518,"v":3.9},{"ra":136.312,"dec":-52.518,"v":4.0},{"ra":136.246,"dec":-52.518,"v":3.9},{"ra":136.18,"dec":-52.518,"v":3.8},{"ra":136.114,"dec":-52.518,"v":3.7},{"ra":136.048,"dec":-52.518,"v":3.6},{"ra":135.982,"dec":-52.518,"v":3.5},{"ra":135.916,"dec":-52.518,"v":3.4},{"ra":135.85,"dec":-52.518,"v":3.3},{"ra":135.784,"dec":-52.518,"v":3.2},{"ra":135.718,"dec":-52.518,"v":3.1},
{"ra":137.632,"dec":-52.558,"v":0.4},{"ra":137.566,"dec":-52.558,"v":0.7},{"ra":137.5,"dec":-52.558,"v":0.9},{"ra":137.434,"dec":-52.558,"v":1.1},{"ra":137.368,"dec":-52.558,"v":1.2},{"ra":137.302,"dec":-52.558,"v":1.4},{"ra":137.236,"dec":-52.558,"v":1.8},{"ra":137.17,"dec":-52.558,"v":2.2},{"ra":137.104,"dec":-52.558,"v":2.7},{"ra":137.038,"dec":-52.558,"v":3.1},{"ra":136.972,"dec":-52.558,"v":3.4},{"ra":136.906,"dec":-52.558,"v":3.6},{"ra":136.84,"dec":-52.558,"v":3.7},{"ra":136.774,"dec":-52.558,"v":3.7},{"ra":136.708,"dec":-52.558,"v":3.5},{"ra":136.642,"dec":-52.558,"v":3.3},{"ra":136.576,"dec":-52.558,"v":3.1},{"ra":136.51,"dec":-52.558,"v":3.0},{"ra":136.444,"dec":-52.558,"v":3.0},{"ra":136.378,"dec":-52.558,"v":3.0},{"ra":136.312,"dec":-52.558,"v":3.0},{"ra":136.246,"dec":-52.558,"v":2.9},{"ra":136.18,"dec":-52.558,"v":2.9},{"ra":136.114,"dec":-52.558,"v":2.8},{"ra":136.048,"dec":-52.558,"v":2.8},{"ra":135.982,"dec":-52.558,"v":2.8},{"ra":135.916,"dec":-52.558,"v":2.8},{"ra":135.85,"dec":-52.558,"v":2.8},{"ra":135.784,"dec":-52.558,"v":2.8},{"ra":135.718,"dec":-52.558,"v":2.9},
{"ra":137.632,"dec":-52.598,"v":0.1},{"ra":137.566,"dec":-52.598,"v":0.3},{"ra":137.5,"dec":-52.598,"v":0.4},{"ra":137.434,"dec":-52.598,"v":0.5},{"ra":137.368,"dec":-52.598,"v":0.6},{"ra":137.302,"dec":-52.598,"v":0.7},{"ra":137.236,"dec":-52.598,"v":1.1},{"ra":137.17,"dec":-52.598,"v":1.6},{"ra":137.104,"dec":-52.598,"v":2.4},{"ra":137.038,"dec":-52.598,"v":3.0},{"ra":136.972,"dec":-52.598,"v":3.4},{"ra":136.906,"dec":-52.598,"v":3.6},{"ra":136.84,"dec":-52.598,"v":3.7},{"ra":136.774,"dec":-52.598,"v":3.7},{"ra":136.708,"dec":-52.598,"v":3.3},{"ra":136.642,"dec":-52.598,"v":2.9},{"ra":136.576,"dec":-52.598,"v":2.5},{"ra":136.51,"dec":-52.598,"v":2.2},{"ra":136.444,"dec":-52.598,"v":2.1},{"ra":136.378,"dec":-52.598,"v":2.0},{"ra":136.312,"dec":-52.598,"v":2.0},{"ra":136.246,"dec":-52.598,"v":2.0},{"ra":136.18,"dec":-52.598,"v":2.1},{"ra":136.114,"dec":-52.598,"v":2.2},{"ra":136.048,"dec":-52.598,"v":2.3},{"ra":135.982,"dec":-52.598,"v":2.4},{"ra":135.916,"dec":-52.598,"v":2.5},{"ra":135.85,"dec":-52.598,"v":2.6},{"ra":135.784,"dec":-52.598,"v":2.7},{"ra":135.718,"dec":-52.598,"v":2.8},
{"ra":137.632,"dec":-52.638,"v":0.0},{"ra":137.566,"dec":-52.638,"v":0.1},{"ra":137.5,"dec":-52.638,"v":0.2},{"ra":137.434,"dec":-52.638,"v":0.3},{"ra":137.368,"dec":-52.638,"v":0.4},{"ra":137.302,"dec":-52.638,"v":0.5},{"ra":137.236,"dec":-52.638,"v":0.9},{"ra":137.17,"dec":-52.638,"v":1.5},{"ra":137.104,"dec":-52.638,"v":2.3},{"ra":137.038,"dec":-52.638,"v":3.0},{"ra":136.972,"dec":-52.638,"v":3.4},{"ra":136.906,"dec":-52.638,"v":3.7},{"ra":136.84,"dec":-52.638,"v":3.8},{"ra":136.774,"dec":-52.638,"v":3.7},{"ra":136.708,"dec":-52.638,"v":3.2},{"ra":136.642,"dec":-52.638,"v":2.6},{"ra":136.576,"dec":-52.638,"v":2.0},{"ra":136.51,"dec":-52.638,"v":1.7},{"ra":136.444,"dec":-52.638,"v":1.5},{"ra":136.378,"dec":-52.638,"v":1.4},{"ra":136.312,"dec":-52.638,"v":1.3},{"ra":136.246,"dec":-52.638,"v":1.4},{"ra":136.18,"dec":-52.638,"v":1.6},{"ra":136.114,"dec":-52.638,"v":1.8},{"ra":136.048,"dec":-52.638,"v":2.1},{"ra":135.982,"dec":-52.638,"v":2.3},{"ra":135.916,"dec":-52.638,"v":2.5},{"ra":135.85,"dec":-52.638,"v":2.6},{"ra":135.784,"dec":-52.638,"v":2.8},{"ra":135.718,"dec":-52.638,"v":2.9},
{"ra":137.632,"dec":-52.678,"v":0.0},{"ra":137.566,"dec":-52.678,"v":0.0},{"ra":137.5,"dec":-52.678,"v":0.1},{"ra":137.434,"dec":-52.678,"v":0.2},{"ra":137.368,"dec":-52.678,"v":0.3},{"ra":137.302,"dec":-52.678,"v":0.4},{"ra":137.236,"dec":-52.678,"v":0.8},{"ra":137.17,"dec":-52.678,"v":1.4},{"ra":137.104,"dec":-52.678,"v":2.2},{"ra":137.038,"dec":-52.678,"v":2.9},{"ra":136.972,"dec":-52.678,"v":3.3},{"ra":136.906,"dec":-52.678,"v":3.6},{"ra":136.84,"dec":-52.678,"v":3.7},{"ra":136.774,"dec":-52.678,"v":3.7},{"ra":136.708,"dec":-52.678,"v":3.2},{"ra":136.642,"dec":-52.678,"v":2.4},{"ra":136.576,"dec":-52.678,"v":1.7},{"ra":136.51,"dec":-52.678,"v":1.3},{"ra":136.444,"dec":-52.678,"v":1.1},{"ra":136.378,"dec":-52.678,"v":1.0},{"ra":136.312,"dec":-52.678,"v":1.0},{"ra":136.246,"dec":-52.678,"v":1.1},{"ra":136.18,"dec":-52.678,"v":1.3},{"ra":136.114,"dec":-52.678,"v":1.6},{"ra":136.048,"dec":-52.678,"v":1.9},{"ra":135.982,"dec":-52.678,"v":2.2},{"ra":135.916,"dec":-52.678,"v":2.4},{"ra":135.85,"dec":-52.678,"v":2.6},{"ra":135.784,"dec":-52.678,"v":2.8},{"ra":135.718,"dec":-52.678,"v":3.0}
],
"shell":[{"ra":136.654,"dec":-51.989},{"ra":136.634,"dec":-51.992},{"ra":136.613,"dec":-51.997},{"ra":136.593,"dec":-52.005},{"ra":136.572,"dec":-52.011},{"ra":136.551,"dec":-52.016},{"ra":136.535,"dec":-52.027},{"ra":136.638,"dec":-52.005},{"ra":136.621,"dec":-52.016},{"ra":136.638,"dec":-52.027},{"ra":136.646,"dec":-52.035},{"ra":136.613,"dec":-52.027},{"ra":136.588,"dec":-52.021},{"ra":136.539,"dec":-52.04},{"ra":136.551,"dec":-52.051},{"ra":136.568,"dec":-52.056},{"ra":136.555,"dec":-52.067},{"ra":136.576,"dec":-52.072},{"ra":136.535,"dec":-52.059},{"ra":136.539,"dec":-52.08},{"ra":136.555,"dec":-52.088},{"ra":136.527,"dec":-52.096},{"ra":136.514,"dec":-52.112},{"ra":136.539,"dec":-52.109},{"ra":136.555,"dec":-52.099},{"ra":136.522,"dec":-52.128},{"ra":136.539,"dec":-52.131},{"ra":136.551,"dec":-52.12},{"ra":136.564,"dec":-52.144},{"ra":136.539,"dec":-52.147},{"ra":136.576,"dec":-52.157},{"ra":136.555,"dec":-52.163},{"ra":136.531,"dec":-52.144},{"ra":136.514,"dec":-52.136},{"ra":136.572,"dec":-52.168},{"ra":136.601,"dec":-52.171},{"ra":136.621,"dec":-52.176},{"ra":136.588,"dec":-52.184},{"ra":136.654,"dec":-52.179},{"ra":136.629,"dec":-52.184},{"ra":136.757,"dec":-52.045},{"ra":136.745,"dec":-52.056},{"ra":136.778,"dec":-52.059},{"ra":136.761,"dec":-52.069},{"ra":136.736,"dec":-52.072},{"ra":136.724,"dec":-52.085},{"ra":136.745,"dec":-52.085},{"ra":136.765,"dec":-52.088},{"ra":136.712,"dec":-52.075},{"ra":136.687,"dec":-52.072},{"ra":136.703,"dec":-52.093},{"ra":136.72,"dec":-52.101},{"ra":136.695,"dec":-52.109},{"ra":136.675,"dec":-52.101},{"ra":136.712,"dec":-52.141},{"ra":136.728,"dec":-52.147},{"ra":136.708,"dec":-52.155},{"ra":136.687,"dec":-52.147},{"ra":136.716,"dec":-52.163},{"ra":136.695,"dec":-52.165},{"ra":136.671,"dec":-52.16},{"ra":136.679,"dec":-52.173},{"ra":136.662,"dec":-52.171},{"ra":136.695,"dec":-52.139},{"ra":136.662,"dec":-52.125},{"ra":136.638,"dec":-52.131},{"ra":136.654,"dec":-52.115},{"ra":136.621,"dec":-52.141},{"ra":136.638,"dec":-52.149},{"ra":136.613,"dec":-52.131},{"ra":136.852,"dec":-52.04},{"ra":136.864,"dec":-52.053},{"ra":136.852,"dec":-52.064},{"ra":136.872,"dec":-52.069},{"ra":136.86,"dec":-52.08},{"ra":136.843,"dec":-52.051},{"ra":136.843,"dec":-52.075},{"ra":136.856,"dec":-52.088},{"ra":136.679,"dec":-52.202},{"ra":136.654,"dec":-52.205},{"ra":136.629,"dec":-52.202},{"ra":136.605,"dec":-52.2},{"ra":136.662,"dec":-52.197},{"ra":136.625,"dec":-51.997},{"ra":136.605,"dec":-52.011},{"ra":136.576,"dec":-52.024},{"ra":136.551,"dec":-52.032},{"ra":136.531,"dec":-52.045},{"ra":136.527,"dec":-52.067},{"ra":136.535,"dec":-52.093},{"ra":136.518,"dec":-52.099},{"ra":136.506,"dec":-52.12},{"ra":136.527,"dec":-52.115},{"ra":136.547,"dec":-52.083},{"ra":136.564,"dec":-52.075},{"ra":136.572,"dec":-52.088},{"ra":136.547,"dec":-52.107},{"ra":136.568,"dec":-52.109},{"ra":136.564,"dec":-52.131},{"ra":136.547,"dec":-52.141},{"ra":136.584,"dec":-52.147},{"ra":136.527,"dec":-52.155},{"ra":136.555,"dec":-52.152},{"ra":136.572,"dec":-52.176},{"ra":136.613,"dec":-52.16},{"ra":136.629,"dec":-52.163},{"ra":136.662,"dec":-52.16},{"ra":136.786,"dec":-52.069},{"ra":136.769,"dec":-52.08},{"ra":136.749,"dec":-52.072},{"ra":136.732,"dec":-52.093},{"ra":136.753,"dec":-52.096},{"ra":136.708,"dec":-52.112},{"ra":136.683,"dec":-52.088},{"ra":136.724,"dec":-52.136},{"ra":136.728,"dec":-52.16},{"ra":136.703,"dec":-52.173},{"ra":136.683,"dec":-52.16},{"ra":136.868,"dec":-52.061},{"ra":136.839,"dec":-52.064},{"ra":136.86,"dec":-52.045},{"ra":136.671,"dec":-52.208},{"ra":136.638,"dec":-52.208},{"ra":136.613,"dec":-52.202}],
"knots":[{"ra":136.601,"dec":-52.144},{"ra":136.724,"dec":-52.202},{"ra":136.716,"dec":-51.97},{"ra":136.753,"dec":-52.016},{"ra":136.783,"dec":-52.003},{"ra":136.819,"dec":-51.968},{"ra":136.742,"dec":-51.979},{"ra":136.716,"dec":-52.029},{"ra":136.685,"dec":-52.028},{"ra":136.782,"dec":-52.037},{"ra":136.694,"dec":-52.053},{"ra":136.646,"dec":-52.056},{"ra":136.617,"dec":-52.084},{"ra":136.672,"dec":-52.007},{"ra":136.662,"dec":-52.02},{"ra":136.79,"dec":-52.101},{"ra":136.878,"dec":-52.109},{"ra":136.856,"dec":-52.151},{"ra":136.798,"dec":-52.165},{"ra":136.798,"dec":-52.197},{"ra":136.773,"dec":-52.206},{"ra":136.749,"dec":-52.206},{"ra":136.823,"dec":-52.219},{"ra":136.827,"dec":-52.181},{"ra":136.819,"dec":-52.187},{"ra":136.728,"dec":-52.2},{"ra":136.741,"dec":-52.176},{"ra":136.757,"dec":-52.187}],
"inner":[{"k":0,"ra":136.832,"dec":-52.054},{"k":1,"ra":136.824,"dec":-52.018},{"k":2,"ra":136.801,"dec":-51.984},{"k":3,"ra":136.764,"dec":-51.956},{"k":4,"ra":136.717,"dec":-51.934},{"k":5,"ra":136.661,"dec":-51.92},{"k":6,"ra":136.602,"dec":-51.915},{"k":7,"ra":136.543,"dec":-51.92},{"k":8,"ra":136.487,"dec":-51.934},{"k":9,"ra":136.44,"dec":-51.956},{"k":10,"ra":136.403,"dec":-51.984},{"k":11,"ra":136.38,"dec":-52.018},{"k":12,"ra":136.372,"dec":-52.054},{"k":13,"ra":136.38,"dec":-52.09},{"k":14,"ra":136.403,"dec":-52.124},{"k":15,"ra":136.44,"dec":-52.152},{"k":16,"ra":136.487,"dec":-52.174},{"k":17,"ra":136.543,"dec":-52.188},{"k":18,"ra":136.602,"dec":-52.193},{"k":19,"ra":136.661,"dec":-52.188},{"k":20,"ra":136.717,"dec":-52.174},{"k":21,"ra":136.764,"dec":-52.152},{"k":22,"ra":136.801,"dec":-52.124},{"k":23,"ra":136.824,"dec":-52.09}],
"outer":[{"k":0,"ra":136.975,"dec":-52.054},{"k":1,"ra":136.962,"dec":-51.995},{"k":2,"ra":136.925,"dec":-51.941},{"k":3,"ra":136.866,"dec":-51.894},{"k":4,"ra":136.789,"dec":-51.858},{"k":5,"ra":136.699,"dec":-51.835},{"k":6,"ra":136.602,"dec":-51.828},{"k":7,"ra":136.505,"dec":-51.835},{"k":8,"ra":136.415,"dec":-51.858},{"k":9,"ra":136.338,"dec":-51.894},{"k":10,"ra":136.279,"dec":-51.941},{"k":11,"ra":136.242,"dec":-51.995},{"k":12,"ra":136.229,"dec":-52.054},{"k":13,"ra":136.242,"dec":-52.113},{"k":14,"ra":136.279,"dec":-52.167},{"k":15,"ra":136.338,"dec":-52.214},{"k":16,"ra":136.415,"dec":-52.25},{"k":17,"ra":136.505,"dec":-52.273},{"k":18,"ra":136.602,"dec":-52.28},{"k":19,"ra":136.699,"dec":-52.273},{"k":20,"ra":136.789,"dec":-52.25},{"k":21,"ra":136.866,"dec":-52.214},{"k":22,"ra":136.925,"dec":-52.167},{"k":23,"ra":136.962,"dec":-52.113}],
"bar":[{"v":-0.44},{"v":-0.31},{"v":-0.19},{"v":-0.06},{"v":0.06},{"v":0.19},{"v":0.31},{"v":0.44},{"v":0.56},{"v":0.69},{"v":0.81},{"v":0.94},{"v":1.06},{"v":1.19},{"v":1.31},{"v":1.44},{"v":1.56},{"v":1.69},{"v":1.81},{"v":1.94},{"v":2.06},{"v":2.19},{"v":2.31},{"v":2.44},{"v":2.56},{"v":2.69},{"v":2.81},{"v":2.94},{"v":3.06},{"v":3.19},{"v":3.31},{"v":3.44},{"v":3.56},{"v":3.69},{"v":3.81},{"v":3.94},{"v":4.06},{"v":4.19},{"v":4.31},{"v":4.44},{"v":4.56},{"v":4.69},{"v":4.81},{"v":4.94},{"v":5.06},{"v":5.19},{"v":5.31},{"v":5.44},{"v":5.56},{"v":5.69},{"v":5.81},{"v":5.94},{"v":6.06},{"v":6.19},{"v":6.31},{"v":6.44},{"v":6.56},{"v":6.69},{"v":6.81},{"v":6.94},{"v":7.06},{"v":7.19},{"v":7.31},{"v":7.44},{"v":7.56},{"v":7.69},{"v":7.81},{"v":7.94},{"v":8.06},{"v":8.19},{"v":8.31},{"v":8.44},{"v":8.56},{"v":8.69},{"v":8.81},{"v":8.94},{"v":9.06},{"v":9.19},{"v":9.31},{"v":9.44},{"v":9.56},{"v":9.69},{"v":9.81},{"v":9.94},{"v":10.06},{"v":10.19},{"v":10.31},{"v":10.44},{"v":10.56},{"v":10.69},{"v":10.81},{"v":10.94},{"v":11.06},{"v":11.19},{"v":11.31},{"v":11.44},{"v":11.56},{"v":11.69},{"v":11.81},{"v":11.94},{"v":12.06},{"v":12.19},{"v":12.31},{"v":12.44},{"v":12.56},{"v":12.69},{"v":12.81},{"v":12.94},{"v":13.06},{"v":13.19},{"v":13.31},{"v":13.44},{"v":13.56},{"v":13.69},{"v":13.81},{"v":13.94},{"v":14.06},{"v":14.19},{"v":14.31},{"v":14.44},{"v":14.56},{"v":14.69},{"v":14.81},{"v":14.94},{"v":15.06},{"v":15.19},{"v":15.31},{"v":15.44},{"v":15.56},{"v":15.69},{"v":15.81},{"v":15.94},{"v":16.06},{"v":16.19},{"v":16.31},{"v":16.44},{"v":16.56},{"v":16.69},{"v":16.81},{"v":16.94},{"v":17.06},{"v":17.19},{"v":17.31},{"v":17.44},{"v":17.56},{"v":17.69},{"v":17.81},{"v":17.94},{"v":18.06},{"v":18.19},{"v":18.31},{"v":18.44},{"v":18.56},{"v":18.69},{"v":18.81},{"v":18.94},{"v":19.06},{"v":19.19},{"v":19.31},{"v":19.44},{"v":19.56},{"v":19.69},{"v":19.81},{"v":19.94},{"v":20.06},{"v":20.19},{"v":20.31},{"v":20.44},{"v":20.56},{"v":20.69},{"v":20.81},{"v":20.94},{"v":21.06},{"v":21.19},{"v":21.31},{"v":21.44},{"v":21.56},{"v":21.69},{"v":21.81},{"v":21.94},{"v":22.06},{"v":22.19},{"v":22.31},{"v":22.44},{"v":22.56},{"v":22.69},{"v":22.81},{"v":22.94},{"v":23.06},{"v":23.19},{"v":23.31},{"v":23.44},{"v":23.56},{"v":23.69},{"v":23.81},{"v":23.94},{"v":24.06},{"v":24.19},{"v":24.31},{"v":24.44},{"v":24.56},{"v":24.69},{"v":24.81},{"v":24.94},{"v":25.06},{"v":25.19},{"v":25.31},{"v":25.44},{"v":25.56},{"v":25.69},{"v":25.81},{"v":25.94},{"v":26.06},{"v":26.19},{"v":26.31},{"v":26.44}]
},
"layer":[
{"resolve":{"axis":{"x":"independent","y":"independent"}},"layer":[
{"data":{"name":"cells"},"mark":{"type":"rect","width":27.4,"height":25.6,"clip":true},
"encoding":{"x":{"field":"ra","type":"quantitative","scale":{"domain":[137.664,135.684],"zero":false,"nice":false},"axis":{"orient":"bottom","zindex":1,"title":"Right ascension","titleFontSize":26,"titleFontWeight":"normal","titleColor":"#2a2a2a","titleX":398,"titleY":109,"titleBaseline":"middle","values":[137.65,137.6,137.55,137.5,137.45,137.4,137.35,137.3,137.25,137.2,137.15,137.1,137.05,137.0,136.95,136.9,136.85,136.8,136.75,136.7,136.65,136.6,136.55,136.5,136.45,136.4,136.35,136.3,136.25,136.2,136.15,136.1,136.05,136.0,135.95,135.9,135.85,135.8,135.75,135.7],"labelExpr":"abs((datum.value-135.8)*2.5-round((datum.value-135.8)*2.5))<0.01 ? format(datum.value,'.3f') : ''","labelOverlap":false,"labelBound":false,"labelFontSize":25.5,"labelColor":"#2a2a2a","labelPadding":37,"labelAngle":0,"grid":false,"domain":false,"tickColor":"#ffffff","tickWidth":2.2,"tickSize":{"condition":{"test":"abs(datum.value*5-round(datum.value*5))<0.01","value":-12},"value":-5}}},
"y":{"field":"dec","type":"quantitative","scale":{"domain":[-52.698,-51.498],"zero":false,"nice":false},"axis":{"orient":"left","zindex":1,"title":"Declination","titleFontSize":25.5,"titleFontWeight":"normal","titleColor":"#2a2a2a","titleAngle":-90,"titleX":-114,"titleY":374,"titleBaseline":"middle","values":[-51.5,-51.55,-51.6,-51.65,-51.7,-51.75,-51.8,-51.85,-51.9,-51.95,-52.0,-52.05,-52.1,-52.15,-52.2,-52.25,-52.3,-52.35,-52.4,-52.45,-52.5,-52.55,-52.6,-52.65],"labelExpr":"abs(datum.value*5-round(datum.value*5))<0.01 ? '-'+format(abs(datum.value),'.3f') : ''","labelOverlap":false,"labelBound":false,"labelFontSize":23,"labelColor":"#2a2a2a","labelAngle":270,"labelAlign":"center","labelBaseline":"bottom","labelPadding":25,"grid":false,"domain":false,"tickColor":"#ffffff","tickWidth":2.2,"tickSize":{"condition":{"test":"abs(datum.value*5-round(datum.value*5))<0.01","value":-12},"value":-5}}},
"color":{"field":"v","type":"quantitative","legend":null,"scale":{"domain":[-0.5,6.25,13,19.75,26.5],"range":["#000000","#0000ff","#ff0000","#ffff00","#ffffff"],"interpolate":"rgb"}}}},
{"data":{"name":"shell"},"mark":{"type":"point","filled":false,"stroke":"#3ce83c","strokeWidth":3.6,"size":62,"opacity":1},
"encoding":{"x":{"field":"ra","type":"quantitative","axis":{"orient":"top","zindex":1,"labels":false,"title":null,"grid":false,"domain":false,"tickColor":"#ffffff","tickWidth":2.2,"values":[137.65,137.6,137.55,137.5,137.45,137.4,137.35,137.3,137.25,137.2,137.15,137.1,137.05,137.0,136.95,136.9,136.85,136.8,136.75,136.7,136.65,136.6,136.55,136.5,136.45,136.4,136.35,136.3,136.25,136.2,136.15,136.1,136.05,136.0,135.95,135.9,135.85,135.8,135.75,135.7],"tickSize":{"condition":{"test":"abs(datum.value*5-round(datum.value*5))<0.01","value":-12},"value":-5}}},"y":{"field":"dec","type":"quantitative","axis":{"orient":"right","zindex":1,"labels":false,"title":null,"grid":false,"domain":false,"tickColor":"#ffffff","tickWidth":2.2,"values":[-51.5,-51.55,-51.6,-51.65,-51.7,-51.75,-51.8,-51.85,-51.9,-51.95,-52.0,-52.05,-52.1,-52.15,-52.2,-52.25,-52.3,-52.35,-52.4,-52.45,-52.5,-52.55,-52.6,-52.65],"tickSize":{"condition":{"test":"abs(datum.value*5-round(datum.value*5))<0.01","value":-12},"value":-5}}}}},
{"data":{"name":"knots"},"mark":{"type":"point","filled":false,"stroke":"#3ce83c","strokeWidth":2,"size":22,"opacity":1},"encoding":{"x":{"field":"ra","type":"quantitative","axis":null},"y":{"field":"dec","type":"quantitative","axis":null}}},
{"data":{"name":"inner"},"mark":{"type":"line","interpolate":"cardinal-closed","stroke":"#1c1c8c","strokeWidth":3.5},"encoding":{"x":{"field":"ra","type":"quantitative","axis":null},"y":{"field":"dec","type":"quantitative","axis":null},"order":{"field":"k","type":"quantitative"}}},
{"data":{"name":"outer"},"mark":{"type":"line","interpolate":"cardinal-closed","stroke":"#1c1c8c","strokeWidth":3.5,"strokeDash":[15,8]},"encoding":{"x":{"field":"ra","type":"quantitative","axis":null},"y":{"field":"dec","type":"quantitative","axis":null},"order":{"field":"k","type":"quantitative"}}},
{"data":{"values":[{"ra":136.709,"dec":-52.114,"source":"black"},{"ra":136.6,"dec":-52.054,"source":"blue"}]},"mark":{"type":"point","shape":"M-1,0L1,0M0,-1L0,1","filled":false,"size":420,"strokeWidth":3.5,"opacity":1},"encoding":{"x":{"field":"ra","type":"quantitative","axis":null},"y":{"field":"dec","type":"quantitative","axis":null},"stroke":{"field":"source","type":"nominal","legend":null,"scale":{"domain":["black","blue"],"range":["#000000","#1414c8"]}}}}
]},
{"resolve":{"axis":{"x":"independent","y":"independent"}},"layer":[
{"data":{"name":"bar"},"mark":{"type":"rect","width":5.8,"clip":false},"encoding":{"x":{"field":"v","type":"quantitative","scale":{"domain":[-0.5,26.55],"range":[-171,965],"zero":false,"nice":false},"axis":{"orient":"bottom","offset":186,"title":null,"values":[0,5,10,15,20,25],"format":"d","grid":false,"domain":false,"tickColor":"#333333","tickSize":5,"tickWidth":1.5,"labelFontSize":23,"labelColor":"#2a2a2a","labelPadding":22,"labelAngle":0,"labelOverlap":false,"labelBound":false}},"y":{"datum":0,"type":"quantitative","scale":{"domain":[0,1],"range":[936,897]},"axis":null},"y2":{"datum":1},"color":{"field":"v","type":"quantitative","legend":null,"scale":{"domain":[-0.5,6.25,13,19.75,26.5],"range":["#000000","#0000ff","#ff0000","#ffff00","#ffffff"],"interpolate":"rgb"}}}},
{"data":{"values":[{"lo":-0.5,"hi":26.55}]},"mark":{"type":"rect","fillOpacity":0,"stroke":"#444444","strokeWidth":1.5,"strokeOpacity":0.7,"clip":false},"encoding":{"x":{"field":"lo","type":"quantitative","axis":null},"x2":{"field":"hi"},"y":{"datum":0,"type":"quantitative","axis":null},"y2":{"datum":1}}}
]}
],
"resolve":{"scale":{"x":"independent","y":"independent"},"axis":{"x":"independent","y":"independent"}}}
